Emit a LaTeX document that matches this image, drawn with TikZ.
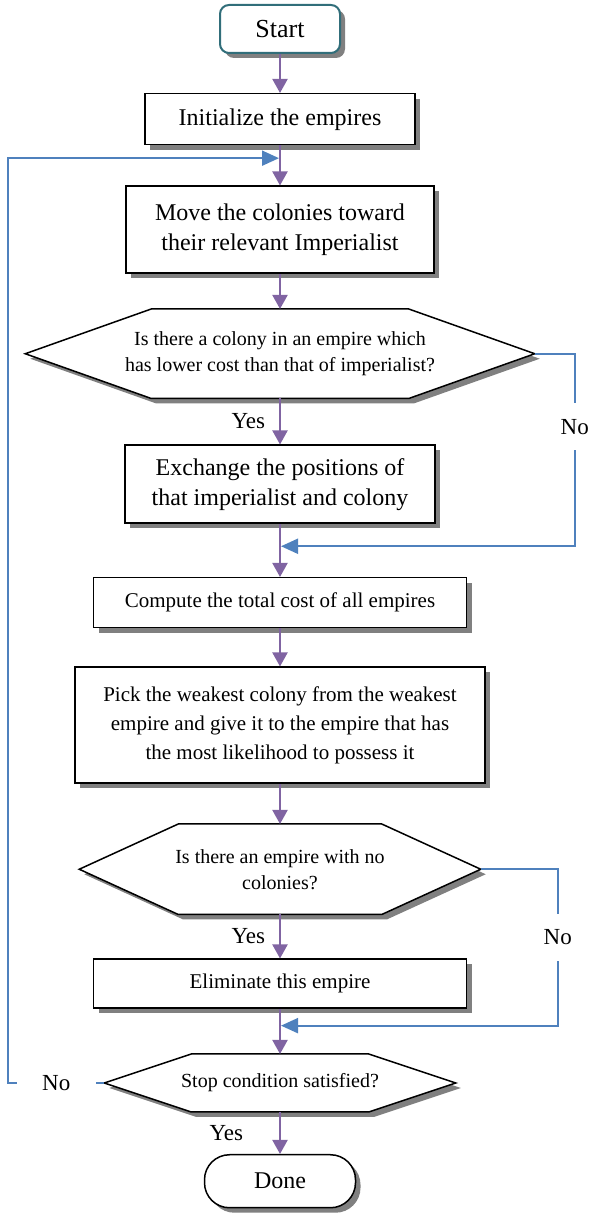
\documentclass[tikz,border=0pt]{standalone}
\usepackage{fontspec}
\setmainfont{Liberation Serif}
\usetikzlibrary{positioning,shadows,arrows.meta,calc}

\definecolor{flowpurple}{RGB}{128,100,162}
\definecolor{loopblue}{RGB}{79,129,189}
\definecolor{startteal}{RGB}{49,110,122}
\definecolor{shadowgray}{RGB}{128,128,128}

\pgfdeclarelayer{background}
\pgfsetlayers{background,main}

% hexagon with shadow drawn behind a decision node (#1 node, #2 size of the pointed ends)
\newcommand{\hexbehind}[2]{%
  \begin{pgfonlayer}{background}
    \fill[shadowgray] ($(#1.west)+(5pt,-5pt)$) -- ($(#1.north west)+(#2+5pt,-5pt)$)
      -- ($(#1.north east)+(-#2+5pt,-5pt)$) -- ($(#1.east)+(5pt,-5pt)$)
      -- ($(#1.south east)+(-#2+5pt,-5pt)$) -- ($(#1.south west)+(#2+5pt,-5pt)$) -- cycle;
    \filldraw[fill=white, draw=black, line width=1.5pt] (#1.west) -- ([xshift=#2]#1.north west)
      -- ([xshift=-#2]#1.north east) -- (#1.east)
      -- ([xshift=-#2]#1.south east) -- ([xshift=#2]#1.south west) -- cycle;
  \end{pgfonlayer}}

\begin{document}
\begin{tikzpicture}[
  x=1pt, y=1pt,
  boxshadow/.style={drop shadow={shadow xshift=5pt,shadow yshift=-5pt,fill=shadowgray,opacity=1}},
  process/.style={rectangle, draw=black, line width=1.5pt, fill=white, boxshadow, align=center, inner sep=2pt},
  terminal/.style={rectangle, rounded corners=9pt, draw=startteal, line width=2pt, fill=white, boxshadow, align=center},
  doneterm/.style={rectangle, rounded corners=25pt, draw=black, line width=1.5pt, fill=white, boxshadow, align=center},
  decision/.style={rectangle, outer sep=0.75pt, align=center, inner sep=2pt, font=\fontsize{20}{26}\selectfont},
  flow/.style={-{Triangle[width=15pt,length=14pt]}, flowpurple, line width=2pt},
  loopback/.style={-{Triangle[width=15pt,length=17pt]}, loopblue, line width=2pt},
  answer/.style={text=black, font=\fontsize{23}{28}\selectfont, inner sep=2pt},
  nolabel/.style={answer, fill=white, minimum height=47pt, inner sep=0pt}]

\useasboundingbox (0,0) rectangle (590,1213);

% Place the steps of the flow one below the other
\node[terminal, minimum width=120pt, minimum height=48pt, font=\fontsize{26}{30}\selectfont] (start) at (280,1184) {Start};
\node[process, below=39pt of start, minimum width=270pt, minimum height=51pt, font=\fontsize{24}{30}\selectfont] (init) {Initialize the empires};
\node[process, below=40pt of init, minimum width=308pt, minimum height=87pt, font=\fontsize{24}{30}\selectfont] (move) {Move the colonies toward\\their relevant Imperialist};
\node[decision, below=35pt of move, minimum width=508pt, minimum height=88pt] (cheaper) {Is there a colony in an empire which\\has lower cost than that of imperialist?};
\node[process, below=46pt of cheaper, minimum width=310pt, minimum height=78pt, font=\fontsize{24}{30}\selectfont] (exch) {Exchange the positions of\\that imperialist and colony};
\node[process, below=53pt of exch, minimum width=373pt, minimum height=50pt, font=\fontsize{21}{29}\selectfont] (total) {Compute the total cost of all empires};
\node[process, below=38pt of total, minimum width=410pt, minimum height=116pt, font=\fontsize{21}{29}\selectfont] (pick) {Pick the weakest colony from the weakest\\empire and give it to the empire that has\\the most likelihood to possess it};
\node[decision, below=40pt of pick, minimum width=400pt, minimum height=89pt] (empty) {Is there an empire with no\\colonies?};
\node[process, below=44pt of empty, minimum width=373pt, minimum height=49pt, font=\fontsize{21}{29}\selectfont] (elim) {Eliminate this empire};
\node[decision, below=45pt of elim, minimum width=350pt, minimum height=56.5pt] (stop) {Stop condition satisfied?};
\node[doneterm, below=42pt of stop, minimum width=151pt, minimum height=53pt, font=\fontsize{24}{30}\selectfont] (done) {Done};

% Hexagon outlines of the three questions
\hexbehind{cheaper}{126pt}
\hexbehind{empty}{99pt}
\hexbehind{stop}{87pt}

% Points where the loops come back into the main flow
\coordinate (join0) at ($(init.south)!0.317!(move.north)$);
\coordinate (join1) at ($(exch.south)!0.42!(total.north)$);
\coordinate (join2) at ($(elim.south)!0.37!(stop.north)$);

% Main flow
\draw[flow] (start) -- (init);
\draw[flow] (init) -- (move);
\draw[flow] (move) -- (cheaper);
\draw[flow] (cheaper) -- node[answer, left=12pt]{Yes} (exch);
\draw[flow] (exch) -- (total);
\draw[flow] (total) -- (pick);
\draw[flow] (pick) -- (empty);
\draw[flow] (empty) -- node[answer, left=12pt]{Yes} (elim);
\draw[flow] (elim) -- (stop);
\draw[flow] (stop) -- node[answer, left=34pt]{Yes} (done);

% The "No" branches
\draw[loopback] (cheaper.east) -- ++(40pt,0) |- node[nolabel, pos=0.19]{No} ([xshift=1pt]join1);
\draw[loopback] (empty.east) -- ++(77pt,0) |- node[nolabel, pos=0.217]{No} ([xshift=1pt]join2);
\draw[loopback] (stop.west) -- node[nolabel, minimum width=79pt]{No} ++(-96pt,0) |- ([xshift=-1pt]join0);

\end{tikzpicture}
\end{document}
